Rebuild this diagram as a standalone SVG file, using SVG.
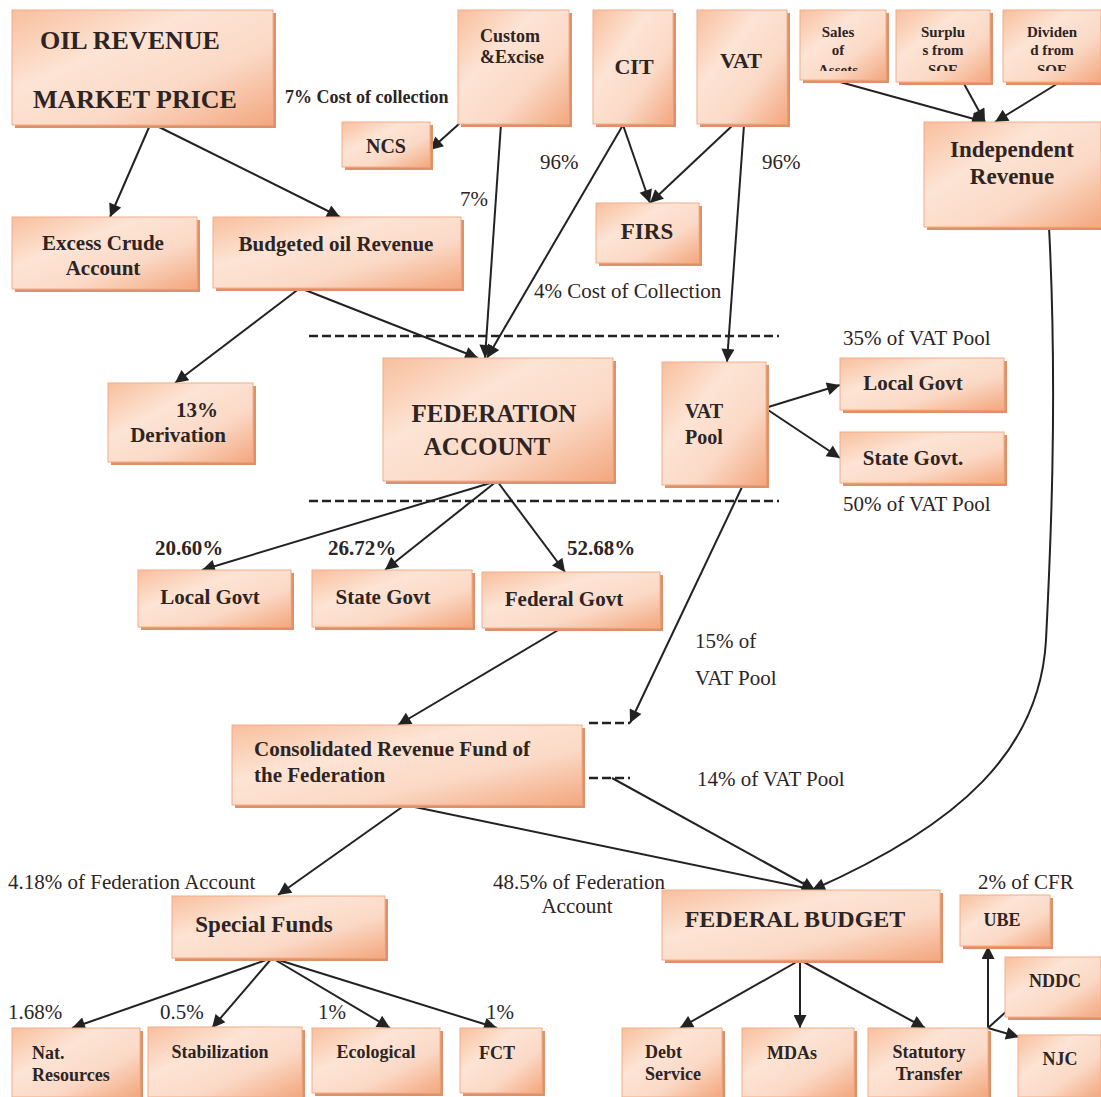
<svg xmlns="http://www.w3.org/2000/svg" width="1101" height="1097" viewBox="0 0 1101 1097">
<defs>
<linearGradient id="g" x1="0" y1="0" x2="1" y2="1">
<stop offset="0" stop-color="#f8bf9d"/>
<stop offset="0.35" stop-color="#fde4d5"/>
<stop offset="0.65" stop-color="#fbd9c6"/>
<stop offset="1" stop-color="#f3a77e"/>
</linearGradient>
<marker id="a" viewBox="0 0 10 10" refX="10" refY="5" markerWidth="15" markerHeight="13" markerUnits="userSpaceOnUse" orient="auto">
<path d="M0,0 L10,5 L0,10 z" fill="#222"/>
</marker>
<clipPath id="c1"><rect x="800" y="10" width="300" height="61"/></clipPath>
</defs>
<style>
.sh{fill:#de9068}
.b{fill:url(#g);stroke:#f2ad88;stroke-width:1}
.t{font-family:"Liberation Serif","Times New Roman",serif;font-weight:bold;fill:#2d2424;font-size:21px}
.l{font-family:"Liberation Serif","Times New Roman",serif;fill:#2d2424;font-size:21px}
.m{text-anchor:middle}
.k{stroke:#222;stroke-width:2;fill:none}
.ka{stroke:#222;stroke-width:2;fill:none;marker-end:url(#a)}
.d{stroke:#222;stroke-width:2.5;stroke-dasharray:9 4;fill:none}
</style>
<rect width="1101" height="1097" fill="#fff"/>

<g id="connectors">
<path class="ka" d="M150,125 L110,217"/>
<path class="ka" d="M155,125 L340,217"/>
<path class="ka" d="M460,123 L430,150"/>
<path class="ka" d="M501,124 L485,358"/>
<path class="ka" d="M623,125 L487,358"/>
<path class="ka" d="M623,125 L650,203"/>
<path class="ka" d="M733,125 L650,203"/>
<path class="ka" d="M744,125 L727,362"/>
<path class="ka" d="M840,82 L985,122"/>
<path class="ka" d="M963,82 L985,122"/>
<path class="ka" d="M1060,82 L995,122"/>
<path class="ka" d="M1049,227 C1058,400 1050,560 1046,640 C1040,750 960,825 812,890"/>
<path class="ka" d="M300,288 L175,383"/>
<path class="ka" d="M300,288 L478,358"/>
<path class="ka" d="M497,481 L202,570"/>
<path class="ka" d="M497,481 L385,570"/>
<path class="ka" d="M497,481 L565,572"/>
<path class="ka" d="M765,408 L840,385"/>
<path class="ka" d="M765,408 L840,458"/>
<path class="ka" d="M742,487 L630,723"/>
<path class="ka" d="M565,626 L398,725"/>
<path class="ka" d="M405,805 L278,895"/>
<path class="ka" d="M405,805 L815,890"/>
<path class="ka" d="M612,778 L815,890"/>
<path class="ka" d="M800,960 L680,1028"/>
<path class="ka" d="M800,960 L800,1028"/>
<path class="ka" d="M800,960 L925,1028"/>
<path class="ka" d="M988,1028 L988,946"/>
<path class="ka" d="M988,1028 L1019,1000"/>
<path class="ka" d="M988,1028 L1019,1037"/>
<path class="ka" d="M272,958 L72,1028"/>
<path class="ka" d="M272,958 L212,1028"/>
<path class="ka" d="M272,958 L390,1028"/>
<path class="ka" d="M272,958 L497,1028"/>
<path class="d" d="M309,336 H779"/>
<path class="d" d="M309,501 H779"/>
<path class="d" d="M589,723 H630"/>
<path class="d" d="M589,778 H630"/>
</g>

<g id="oil"><rect class="sh" x="15" y="13" width="261" height="115"/><rect class="b" x="12" y="10" width="261" height="115"/>
<text class="t" x="40" y="49" style="font-size:26px">OIL REVENUE</text><text class="t" x="33" y="108" style="font-size:26px">MARKET PRICE</text></g>
<g id="custom"><rect class="sh" x="461" y="13" width="111" height="114"/><rect class="b" x="458" y="10" width="111" height="114"/>
<text class="t" x="480" y="42" style="font-size:18px">Custom</text><text class="t" x="480" y="63" style="font-size:18px">&amp;Excise</text></g>
<g id="cit"><rect class="sh" x="596" y="13" width="80" height="114"/><rect class="b" x="593" y="10" width="80" height="114"/>
<text class="t m" x="634" y="74" style="font-size:22px">CIT</text></g>
<g id="vat"><rect class="sh" x="700" y="13" width="90" height="114"/><rect class="b" x="697" y="10" width="90" height="114"/>
<text class="t m" x="741" y="68" style="font-size:22px">VAT</text></g>
<g id="sales"><rect class="sh" x="803" y="13" width="86" height="70"/><rect class="b" x="800" y="10" width="86" height="70"/>
<g clip-path="url(#c1)"><text class="t m" x="838" y="37" style="font-size:15px">Sales</text><text class="t m" x="838" y="55" style="font-size:15px">of</text><text class="t m" x="838" y="75" style="font-size:15px">Assets</text></g></g>
<g id="surplus"><rect class="sh" x="899" y="13" width="94" height="72"/><rect class="b" x="896" y="10" width="94" height="72"/>
<g clip-path="url(#c1)"><text class="t m" x="943" y="37" style="font-size:15px">Surplu</text><text class="t m" x="943" y="55" style="font-size:15px">s from</text><text class="t m" x="943" y="75" style="font-size:15px">SOE</text></g></g>
<g id="dividend"><rect class="sh" x="1006" y="13" width="98" height="72"/><rect class="b" x="1003" y="10" width="98" height="72"/>
<g clip-path="url(#c1)"><text class="t m" x="1052" y="37" style="font-size:15px">Dividen</text><text class="t m" x="1052" y="55" style="font-size:15px">d from</text><text class="t m" x="1052" y="75" style="font-size:15px">SOE</text></g></g>
<g id="ncs"><rect class="sh" x="345" y="125" width="88" height="45"/><rect class="b" x="342" y="122" width="88" height="45"/>
<text class="t m" x="386" y="153" style="font-size:20px">NCS</text></g>
<g id="independent"><rect class="sh" x="927" y="125" width="177" height="105"/><rect class="b" x="924" y="122" width="177" height="105"/>
<text class="t m" x="1012" y="157" style="font-size:23px">Independent</text><text class="t m" x="1012" y="184" style="font-size:23px">Revenue</text></g>
<g id="firs"><rect class="sh" x="599" y="206" width="103" height="60"/><rect class="b" x="596" y="203" width="103" height="60"/>
<text class="t m" x="647" y="239" style="font-size:23px">FIRS</text></g>
<g id="excess"><rect class="sh" x="15" y="220" width="185" height="72"/><rect class="b" x="12" y="217" width="185" height="72"/>
<text class="t m" x="103" y="250">Excess Crude</text><text class="t m" x="103" y="275">Account</text></g>
<g id="budgeted"><rect class="sh" x="216" y="220" width="248" height="71"/><rect class="b" x="213" y="217" width="248" height="71"/>
<text class="t m" x="336" y="251">Budgeted oil Revenue</text></g>
<g id="derivation"><rect class="sh" x="111" y="386" width="145" height="79"/><rect class="b" x="108" y="383" width="145" height="79"/>
<text class="t m" x="197" y="417">13%</text><text class="t m" x="178" y="442">Derivation</text></g>
<g id="federation"><rect class="sh" x="386" y="361" width="230" height="123"/><rect class="b" x="383" y="358" width="230" height="123"/>
<text class="t m" x="494" y="422" style="font-size:25px">FEDERATION</text><text class="t m" x="487" y="455" style="font-size:25px">ACCOUNT</text></g>
<g id="vatpool"><rect class="sh" x="665" y="365" width="104" height="123"/><rect class="b" x="662" y="362" width="104" height="123"/>
<text class="t" x="685" y="418" style="font-size:20px">VAT</text><text class="t" x="685" y="444" style="font-size:20px">Pool</text></g>
<g id="localvat"><rect class="sh" x="843" y="361" width="164" height="52"/><rect class="b" x="840" y="358" width="164" height="52"/>
<text class="t m" x="913" y="390">Local Govt</text></g>
<g id="statevat"><rect class="sh" x="843" y="435" width="164" height="51"/><rect class="b" x="840" y="432" width="164" height="51"/>
<text class="t m" x="913" y="465">State Govt.</text></g>
<g id="localgovt"><rect class="sh" x="141" y="573" width="153" height="57"/><rect class="b" x="138" y="570" width="153" height="57"/>
<text class="t m" x="210" y="604">Local Govt</text></g>
<g id="stategovt"><rect class="sh" x="315" y="573" width="160" height="57"/><rect class="b" x="312" y="570" width="160" height="57"/>
<text class="t m" x="383" y="604">State Govt</text></g>
<g id="federalgovt"><rect class="sh" x="485" y="575" width="178" height="56"/><rect class="b" x="482" y="572" width="178" height="56"/>
<text class="t m" x="564" y="606">Federal Govt</text></g>
<g id="crf"><rect class="sh" x="235" y="728" width="350" height="80"/><rect class="b" x="232" y="725" width="350" height="80"/>
<text class="t" x="254" y="756">Consolidated Revenue Fund of</text><text class="t" x="254" y="782">the Federation</text></g>
<g id="special"><rect class="sh" x="175" y="899" width="213" height="62"/><rect class="b" x="172" y="896" width="213" height="62"/>
<text class="t m" x="264" y="932" style="font-size:23px">Special Funds</text></g>
<g id="fedbudget"><rect class="sh" x="665" y="893" width="278" height="70"/><rect class="b" x="662" y="890" width="278" height="70"/>
<text class="t m" x="795" y="927" style="font-size:24px">FEDERAL BUDGET</text></g>
<g id="ube"><rect class="sh" x="963" y="898" width="90" height="51"/><rect class="b" x="960" y="895" width="90" height="51"/>
<text class="t m" x="1002" y="926" style="font-size:18px">UBE</text></g>
<g id="nddc"><rect class="sh" x="1008" y="960" width="96" height="60"/><rect class="b" x="1005" y="957" width="96" height="60"/>
<text class="t m" x="1055" y="987" style="font-size:18px">NDDC</text></g>
<g id="njc"><rect class="sh" x="1021" y="1038" width="83" height="62"/><rect class="b" x="1018" y="1035" width="83" height="62"/>
<text class="t m" x="1060" y="1065" style="font-size:18px">NJC</text></g>
<g id="debt"><rect class="sh" x="625" y="1031" width="100" height="69"/><rect class="b" x="622" y="1028" width="100" height="69"/>
<text class="t" x="645" y="1058" style="font-size:18px">Debt</text><text class="t" x="645" y="1080" style="font-size:18px">Service</text></g>
<g id="mdas"><rect class="sh" x="745" y="1031" width="112" height="69"/><rect class="b" x="742" y="1028" width="112" height="69"/>
<text class="t m" x="792" y="1059" style="font-size:18px">MDAs</text></g>
<g id="statutory"><rect class="sh" x="871" y="1031" width="120" height="69"/><rect class="b" x="868" y="1028" width="120" height="69"/>
<text class="t m" x="929" y="1058" style="font-size:18px">Statutory</text><text class="t m" x="929" y="1080" style="font-size:18px">Transfer</text></g>
<g id="natres"><rect class="sh" x="15" y="1031" width="128" height="69"/><rect class="b" x="12" y="1028" width="128" height="69"/>
<text class="t" x="32" y="1059" style="font-size:18px">Nat.</text><text class="t" x="32" y="1081" style="font-size:18px">Resources</text></g>
<g id="stabilization"><rect class="sh" x="151" y="1030" width="154" height="70"/><rect class="b" x="148" y="1027" width="154" height="70"/>
<text class="t m" x="220" y="1058" style="font-size:18px">Stabilization</text></g>
<g id="ecological"><rect class="sh" x="315" y="1031" width="128" height="65"/><rect class="b" x="312" y="1028" width="128" height="65"/>
<text class="t m" x="376" y="1058" style="font-size:18px">Ecological</text></g>
<g id="fct"><rect class="sh" x="463" y="1031" width="82" height="65"/><rect class="b" x="460" y="1028" width="82" height="65"/>
<text class="t m" x="497" y="1059" style="font-size:18px">FCT</text></g>

<g id="labels">
<text class="t" x="285" y="103" style="font-size:18px">7% Cost of collection</text>
<text class="l" x="540" y="169">96%</text>
<text class="l" x="762" y="169">96%</text>
<text class="l" x="460" y="206">7%</text>
<text class="l" x="534" y="298">4% Cost of Collection</text>
<text class="l" x="843" y="345">35% of VAT Pool</text>
<text class="l" x="843" y="511">50% of VAT Pool</text>
<text class="t" x="155" y="555">20.60%</text>
<text class="t" x="328" y="555">26.72%</text>
<text class="t" x="567" y="555">52.68%</text>
<text class="l" x="695" y="648">15% of</text>
<text class="l" x="695" y="685">VAT Pool</text>
<text class="l" x="697" y="786">14% of VAT Pool</text>
<text class="l" x="8" y="889">4.18% of Federation Account</text>
<text class="l" x="493" y="889">48.5% of Federation</text>
<text class="l m" x="577" y="913">Account</text>
<text class="l" x="978" y="889">2% of CFR</text>
<text class="l" x="8" y="1019">1.68%</text>
<text class="l" x="160" y="1019">0.5%</text>
<text class="l" x="318" y="1019">1%</text>
<text class="l" x="486" y="1019">1%</text>
</g>
</svg>
